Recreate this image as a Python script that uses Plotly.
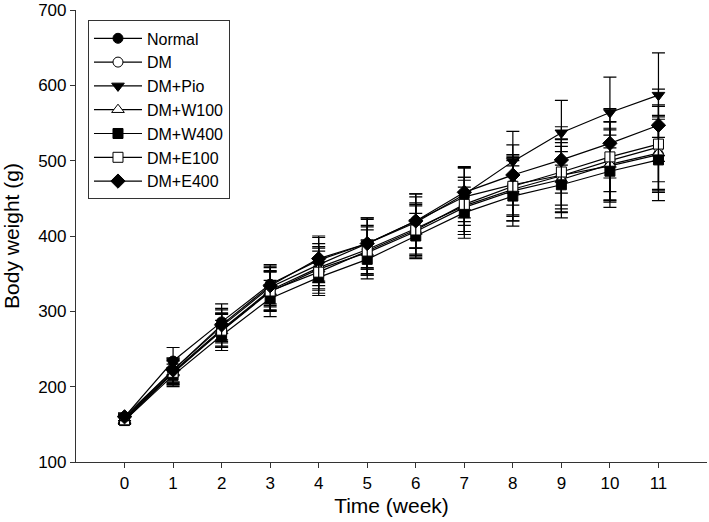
import plotly.graph_objects as go

weeks = list(range(12))
tick_labels = [str(w) for w in weeks]

normal = [160, 234, 286, 336, 368, 390, 420, 452, 468, 480, 493, 508]
dm = [157, 220, 276, 328, 358, 382, 410, 440, 462, 480, 500, 518]
dm_pio = [158, 222, 280, 332, 362, 390, 418, 455, 499, 537, 564, 587]
dm_w100 = [155, 218, 274, 326, 356, 378, 406, 438, 460, 475, 495, 510]
dm_w400 = [155, 215, 268, 317, 345, 369, 400, 431, 453, 468, 486, 501]
dm_e100 = [156, 219, 275, 327, 352, 380, 408, 442, 466, 485, 505, 522]
dm_e400 = [160, 222, 282, 334, 370, 390, 420, 458, 481, 501, 523, 547]

sd_normal = [5, 18, 24, 26, 30, 34, 36, 38, 40, 44, 48, 50]
sd_dm = [5, 16, 22, 26, 28, 32, 34, 38, 42, 48, 52, 56]
sd_pio = [5, 16, 22, 26, 28, 32, 34, 36, 40, 43, 47, 56]
sd_w100 = [5, 16, 22, 26, 28, 30, 34, 36, 40, 44, 48, 50]
sd_w400 = [5, 15, 20, 24, 24, 26, 30, 34, 40, 44, 48, 54]
sd_e100 = [5, 16, 22, 26, 28, 32, 34, 36, 40, 44, 46, 50]
sd_e400 = [5, 16, 22, 26, 30, 34, 36, 34, 40, 44, 46, 48]

series = [
    ("Normal", normal, sd_normal, "circle", "black"),
    ("DM", dm, sd_dm, "circle", "white"),
    ("DM+Pio", dm_pio, sd_pio, "triangle-down", "black"),
    ("DM+W100", dm_w100, sd_w100, "triangle-up", "white"),
    ("DM+W400", dm_w400, sd_w400, "square", "black"),
    ("DM+E100", dm_e100, sd_e100, "square", "white"),
    ("DM+E400", dm_e400, sd_e400, "diamond", "black"),
]

fig = go.Figure()
for name, vals, sds, sym, fill in series:
    size = 11 if sym in ("triangle-down", "triangle-up", "diamond") else 10
    fig.add_trace(go.Scatter(
        x=weeks, y=vals, name=name, mode="lines+markers",
        line=dict(color="black", width=1.2),
        marker=dict(symbol=sym, size=size, color=fill,
                    line=dict(color="black", width=1)),
        error_y=dict(type="data", array=sds, visible=True,
                     color="black", thickness=1.2, width=6.5),
    ))

font_family = "Liberation Sans, Arial, sans-serif"
fig.update_layout(
    width=709, height=522,
    margin=dict(l=76, r=2, t=9.5, b=60.3),
    plot_bgcolor="white", paper_bgcolor="white",
    font=dict(family=font_family, color="black", size=17),
    showlegend=True,
    legend=dict(
        x=0.019, y=0.977, xanchor="left", yanchor="top",
        bordercolor="#333333", borderwidth=1, bgcolor="white",
        font=dict(size=16, family=font_family, color="black"),
        tracegroupgap=0, itemwidth=48,
    ),
    xaxis=dict(
        range=[-1, 12], tickmode="array", tickvals=weeks, ticktext=tick_labels,
        showline=True, linecolor="#333333", linewidth=1.2,
        ticks="outside", ticklen=5, tickwidth=1.2, tickcolor="#333333",
        showgrid=False, zeroline=False,
        tickfont=dict(size=17),
        title=dict(text="Time (week)", font=dict(size=21), standoff=6),
    ),
    yaxis=dict(
        range=[100, 700], dtick=100, tick0=100,
        showline=True, linecolor="#333333", linewidth=1.2,
        ticks="outside", ticklen=5, tickwidth=1.2, tickcolor="#333333",
        showgrid=False, zeroline=False,
        tickfont=dict(size=17),
        title=dict(text="Body weight (g)", font=dict(size=21), standoff=14),
    ),
)

fig.write_html("out.html", config={"displayModeBar": False},
               post_script="document.body.style.margin='0px';")
